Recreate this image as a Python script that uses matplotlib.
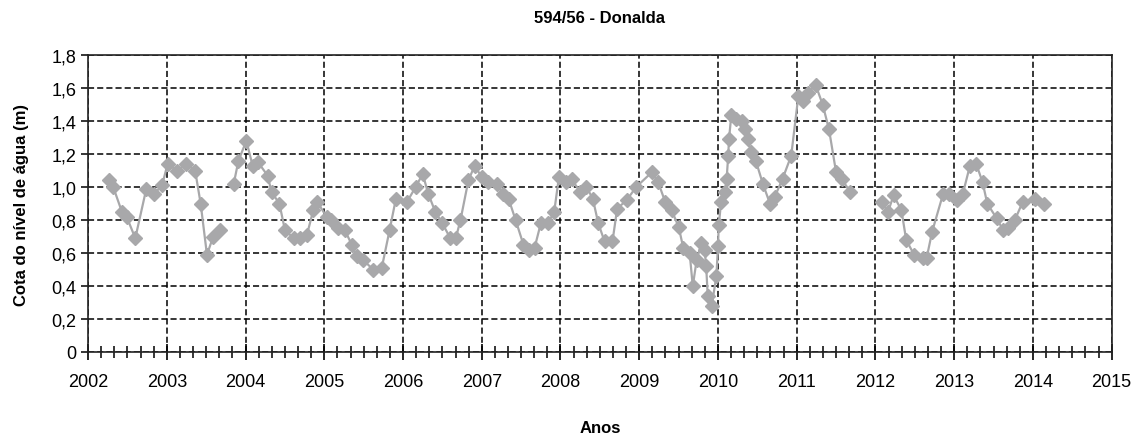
import matplotlib

matplotlib.use("Agg")
import matplotlib.pyplot as plt
import numpy as np
from matplotlib.ticker import FuncFormatter, MultipleLocator

plt.rcParams["font.family"] = ["Liberation Sans", "DejaVu Sans"]

title = "594/56 - Donalda"
xlabel = "Anos"
ylabel = "Cota do nível de água (m)"

# decimal year, water level (m); NaN marks gaps in the record
years = [
    2002.26, 2002.32, 2002.43, 2002.49, 2002.60, 2002.74, 2002.84, 2002.94,
    2003.01, 2003.13, 2003.25, 2003.36, 2003.43, 2003.51, 2003.59, 2003.68,
    2003.76,
    2003.85, 2003.91, 2004.01, 2004.09, 2004.16, 2004.28, 2004.33, 2004.43,
    2004.50, 2004.61, 2004.69, 2004.78, 2004.86, 2004.91, 2005.03, 2005.09,
    2005.18, 2005.26, 2005.35, 2005.41, 2005.49, 2005.62, 2005.73, 2005.83,
    2005.91, 2006.05, 2006.16, 2006.25, 2006.32, 2006.41, 2006.50, 2006.60,
    2006.67, 2006.73, 2006.83, 2006.91, 2007.00, 2007.08, 2007.19, 2007.27,
    2007.34, 2007.43, 2007.53, 2007.60, 2007.67, 2007.75, 2007.84, 2007.92,
    2007.98, 2008.07, 2008.14, 2008.25, 2008.33, 2008.41, 2008.48, 2008.56,
    2008.66, 2008.72, 2008.84, 2008.96, 2009.16, 2009.24, 2009.33, 2009.41,
    2009.50, 2009.56, 2009.64, 2009.68, 2009.73, 2009.79, 2009.83, 2009.85,
    2009.87, 2009.92, 2009.98, 2010.00, 2010.01, 2010.04, 2010.09, 2010.11,
    2010.13, 2010.14, 2010.17, 2010.23, 2010.30, 2010.34, 2010.38, 2010.42,
    2010.48, 2010.57, 2010.66, 2010.72, 2010.82, 2010.93, 2011.02, 2011.08,
    2011.14, 2011.24, 2011.33, 2011.41, 2011.50, 2011.57, 2011.68,
    2011.90,
    2012.08, 2012.16, 2012.23, 2012.33, 2012.39, 2012.49, 2012.60, 2012.65,
    2012.72, 2012.86, 2012.94, 2013.03, 2013.11, 2013.20, 2013.28, 2013.36,
    2013.42, 2013.54, 2013.62, 2013.68, 2013.77, 2013.87, 2014.03, 2014.14,
]
levels = [
    1.04, 1.00, 0.85, 0.82, 0.69, 0.99, 0.96, 1.01,
    1.14, 1.10, 1.14, 1.10, 0.90, 0.59, 0.70, 0.74,
    np.nan,
    1.02, 1.16, 1.28, 1.13, 1.15, 1.07, 0.97, 0.90,
    0.74, 0.69, 0.69, 0.71, 0.86, 0.91, 0.82, 0.80,
    0.75, 0.74, 0.65, 0.58, 0.56, 0.50, 0.51, 0.74,
    0.93, 0.91, 1.00, 1.08, 0.96, 0.85, 0.78, 0.69,
    0.69, 0.80, 1.04, 1.13, 1.06, 1.03, 1.02, 0.96,
    0.93, 0.80, 0.65, 0.62, 0.63, 0.78, 0.78, 0.85,
    1.06, 1.03, 1.05, 0.97, 1.00, 0.93, 0.78, 0.67,
    0.67, 0.87, 0.92, 1.00, 1.09, 1.03, 0.91, 0.86,
    0.76, 0.63, 0.60, 0.40, 0.56, 0.66, 0.62, 0.52,
    0.34, 0.28, 0.46, 0.64, 0.77, 0.91, 0.97, 1.05,
    1.19, 1.29, 1.44, 1.41, 1.40, 1.35, 1.29, 1.21,
    1.16, 1.02, 0.90, 0.94, 1.05, 1.19, 1.55, 1.52,
    1.57, 1.62, 1.50, 1.35, 1.09, 1.05, 0.97,
    np.nan,
    0.91, 0.85, 0.95, 0.86, 0.68, 0.59, 0.57, 0.57,
    0.73, 0.96, 0.96, 0.92, 0.96, 1.13, 1.14, 1.03,
    0.90, 0.81, 0.74, 0.75, 0.80, 0.91, 0.93, 0.90,
]

fig = plt.figure(figsize=(11.45, 4.39), dpi=100)
ax = fig.add_axes([0.0769, 0.196, 0.894, 0.676])

ax.plot(years, levels, color="#a8a8aa", lw=1.6, marker="D", ms=7.5,
        mec="#a8a8aa", mfc="#a8a8aa", zorder=3)

ax.set_xlim(2002, 2015)
ax.set_ylim(0, 1.8)
ax.xaxis.set_major_locator(MultipleLocator(1))
ax.xaxis.set_minor_locator(MultipleLocator(1 / 6))
ax.yaxis.set_major_locator(MultipleLocator(0.2))
ax.yaxis.set_major_formatter(FuncFormatter(
    lambda v, _: "0" if abs(v) < 1e-9 else f"{v:.1f}".replace(".", ",")))
ax.xaxis.set_major_formatter(FuncFormatter(lambda v, _: f"{int(round(v))}"))

ax.grid(True, which="major", color="black", ls=(0, (4, 2)), lw=1.1)
ax.tick_params(axis="x", which="major", direction="inout", length=12, width=1.2,
               labelsize=13, pad=9)
ax.tick_params(axis="x", which="minor", direction="inout", length=9, width=1.1)
ax.tick_params(axis="y", which="major", direction="out", length=5, width=1.1,
               labelsize=13)
for s in ax.spines.values():
    s.set_linewidth(1.2)
    s.set_color("#222222")

ax.set_title(title, fontsize=12, fontweight="bold", pad=24)
ax.set_ylabel(ylabel, fontsize=12, fontweight="bold", labelpad=16)
ax.set_xlabel(xlabel, fontsize=12, fontweight="bold", labelpad=22)

fig.savefig("out.png", dpi=100)
